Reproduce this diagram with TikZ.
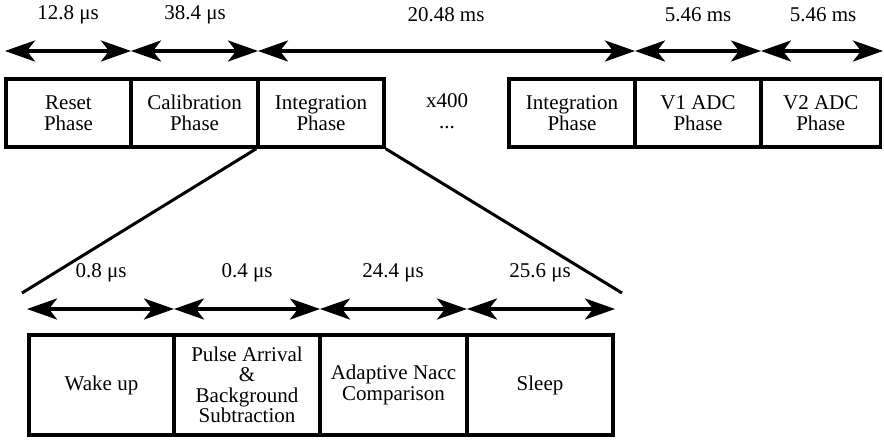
\documentclass[tikz,border=0pt]{standalone}
\usepackage{fontspec}
\setmainfont{Liberation Serif}
\usetikzlibrary{arrows.meta}
\tikzset{
  txt/.style={font=\fontsize{21}{20.5}\selectfont},
  phase/.style={draw, line width=3.5pt, minimum height=68pt, inner sep=0pt, align=center, txt},
  subphase/.style={draw, line width=4.5pt, minimum height=100pt, inner sep=0pt, align=center, txt},
  span/.style={line width=3.5pt, {Stealth[length=30pt,width=21pt,inset=8pt]}-{Stealth[length=30pt,width=21pt,inset=8pt]}},
  zoomline/.style={line width=3pt},
  lbl/.style={inner sep=0pt, txt}
}
\begin{document}
\begin{tikzpicture}[x=1pt,y=-1pt]
\useasboundingbox (0,0) rectangle (884,440);
% top phases
\node[phase, minimum width=125pt] (reset) at (68.5,113) {Reset\\Phase};
\node[phase, minimum width=127pt] (calib) at (194.5,113) {Calibration\\Phase};
\node[phase, minimum width=126pt] (integ) at (321,113) {Integration\\Phase};
\node[lbl, align=center] (rep) at (447,111) {x400\\...};
\node[phase, minimum width=126pt] (integb) at (572,113) {Integration\\Phase};
\node[phase, minimum width=126pt] (vone) at (698,113) {V1 ADC\\Phase};
\node[phase, minimum width=119.5pt] (vtwo) at (820.75,113) {V2 ADC\\Phase};
% top arrows
\coordinate (t0) at (5,51);
\coordinate (t1) at (131,51);
\coordinate (t2) at (258,51);
\coordinate (t3) at (635,51);
\coordinate (t4) at (761,51);
\coordinate (t5) at (883,51);
\draw[span] (t0) -- (t1);
\draw[span] (t1) -- (t2);
\draw[span] (t2) -- (t3);
\draw[span] (t3) -- (t4);
\draw[span] (t4) -- (t5);
\node[lbl] (l1) at (68,15) {12.8 μs};
\node[lbl] (l2) at (195,15) {38.4 μs};
\node[lbl] (l3) at (446,15) {20.48 ms};
\node[lbl] (l4) at (698,15) {5.46 ms};
\node[lbl] (l5) at (823,15) {5.46 ms};
% zoom lines
\coordinate (zl) at (22,293);
\coordinate (zr) at (622,293);
\draw[zoomline] (integ.south west) -- (zl);
\draw[zoomline] (integ.south east) -- (zr);
% bottom sub-phases
\node[subphase, minimum width=145pt] (wake) at (101.5,385) {Wake up};
\node[subphase, minimum width=146pt] (pulse) at (247,385) {Pulse Arrival\\\&\\Background\\Subtraction};
\node[subphase, minimum width=147pt] (adapt) at (393.5,385) {Adaptive Nacc\\Comparison};
\node[subphase, minimum width=146pt] (sleep) at (540,385) {Sleep};
\coordinate (b0) at (27,309);
\coordinate (b1) at (174,309);
\coordinate (b2) at (320,309);
\coordinate (b3) at (467,309);
\coordinate (b4) at (615,309);
\draw[span] (b0) -- (b1);
\draw[span] (b1) -- (b2);
\draw[span] (b2) -- (b3);
\draw[span] (b3) -- (b4);
\node[lbl] (m1) at (101,273) {0.8 μs};
\node[lbl] (m2) at (247,273) {0.4 μs};
\node[lbl] (m3) at (393,273) {24.4 μs};
\node[lbl] (m4) at (540,273) {25.6 μs};
\end{tikzpicture}
\end{document}
